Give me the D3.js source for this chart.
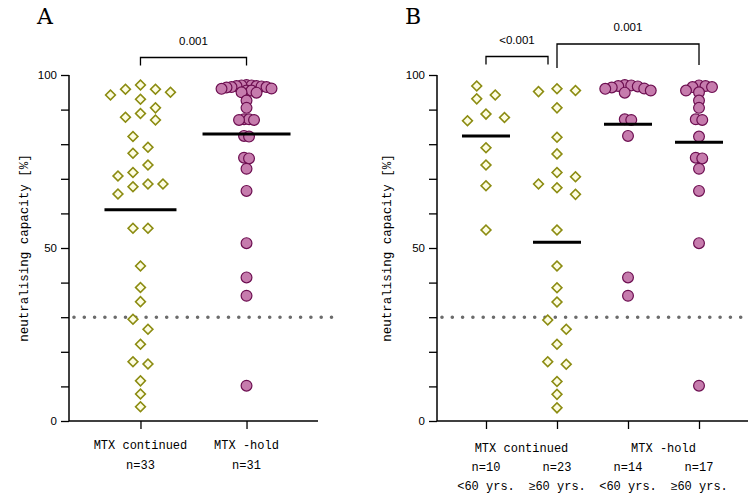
<!DOCTYPE html>
<html><head><meta charset="utf-8">
<script src="https://cdn.jsdelivr.net/npm/d3@7"></script>
<style>body{margin:0;background:#fff}svg{display:block}</style>
</head><body><svg id="c" width="748" height="493"></svg>
<script>
// ---------- data ----------
const contA = [97.1, 95.9, 95.9, 95.0, 94.2, 93.0, 90.5, 88.9, 87.8, 87.0, 82.2, 79.1, 77.4, 74.0, 71.8, 70.8, 68.5, 68.5, 67.7, 65.6, 55.7, 55.7, 44.8, 38.6, 34.5, 29.4, 26.5, 22.2, 17.1, 16.5, 11.6, 7.8, 4.1];
const contUnder60 = [96.8, 94.2, 93.1, 88.7, 87.7, 86.8, 79.0, 74.0, 68.0, 55.2];
const contOver60 = [96.0, 95.5, 95.2, 90.5, 82.0, 77.2, 71.8, 70.6, 68.5, 67.4, 65.5, 55.2, 44.8, 38.5, 34.4, 29.2, 26.5, 22.2, 17.1, 16.4, 11.4, 7.7, 3.8];
const holdUnder60 = [97.1, 97.0, 96.8, 96.7, 96.4, 96.1, 96.0, 95.5, 94.9, 87.2, 87.0, 82.4, 41.5, 36.2];
const holdOver60 = [97.0, 96.8, 96.5, 96.5, 95.5, 95.0, 92.6, 90.5, 87.2, 87.0, 82.2, 76.1, 75.9, 72.9, 66.5, 51.4, 10.2];
const holdA = holdUnder60.concat(holdOver60);

const catsA = ["MTX continued", "MTX -hold"];
const nLabelsA = ["n=33", "n=31"];
const catsB = ["cont<60", "cont>=60", "hold<60", "hold>=60"];
const groupLabelsB = ["MTX continued", "MTX -hold"];
const nLabelsB = ["n=10", "n=23", "n=14", "n=17"];
const ageLabelsB = ["<60 yrs.", "\u226560 yrs.", "<60 yrs.", "\u226560 yrs."];
const yTicks = [0, 10, 20, 30, 40, 50, 60, 70, 80, 90, 100];
const yTickLabels = [0, 50, 100];
const threshold = 30;
const pA = ["0.001"];
const pB = ["<0.001", "0.001"];
const yLabel = "neutralising capacity [%]";

// ---------- styles ----------
const DIA_FILL = "#fdfde2", DIA_STROKE = "#8c8c12";
const CIR_FILL = "#c67cad", CIR_STROKE = "#6d0f51";
const monoFont = "'Liberation Mono', 'DejaVu Sans Mono', monospace";
const sansFont = "'Liberation Sans', Arial, sans-serif";
const serifFont = "'DejaVu Serif', 'Liberation Serif', serif";

const svg = d3.select("#c");
const y = d3.scaleLinear().domain([0, 100]).range([421, 75]);

function swarm(values, step, D) {
  const pts = values.map(v => ({ v, py: y(v), dx: 0 })).sort((a, b) => b.v - a.v);
  const placed = [];
  for (const p of pts) {
    outer: for (let k = 0; k < 60; k++) {
      const cands = k === 0 ? [0] : [k * step, -k * step];
      for (const c of cands) {
        if (placed.every(q => Math.hypot(q.dx - c, q.py - p.py) >= D - 0.01)) { p.dx = c; break outer; }
      }
    }
    placed.push(p);
  }
  const comps = []; let comp = [pts[0]];
  for (let i = 1; i < pts.length; i++) {
    if (pts[i].py - pts[i - 1].py < D) comp.push(pts[i]); else { comps.push(comp); comp = [pts[i]]; }
  }
  comps.push(comp);
  comps.forEach(c => { const m = (d3.min(c, d => d.dx) + d3.max(c, d => d.dx)) / 2; c.forEach(d => d.dx -= m); });
  return pts;
}

function drawPanel(opt) {
  const g = svg.append("g");
  const x = d3.scalePoint().domain(opt.cats).range([opt.x0, opt.x1]).padding(opt.pad);
  g.append("line").attr("x1", opt.x0 + 5).attr("x2", opt.dotEnd)
    .attr("y1", y(threshold)).attr("y2", y(threshold))
    .attr("stroke", "#6b6b6b").attr("stroke-width", 3.6)
    .attr("stroke-linecap", "round").attr("stroke-dasharray", "0 10.3");
  const ya = g.append("g").attr("transform", `translate(${opt.x0},0)`)
    .call(d3.axisLeft(y).tickValues(yTicks).tickSize(8).tickPadding(4)
      .tickFormat(d => yTickLabels.includes(d) ? d : ""));
  const xa = g.append("g").attr("transform", `translate(0,${y(0)})`)
    .call(d3.axisBottom(x).tickSize(8).tickFormat(""));
  [ya, xa].forEach(a => {
    a.select(".domain").attr("stroke", "#000").attr("stroke-width", 1.5);
    a.selectAll(".tick line").attr("stroke", "#000").attr("stroke-width", 1.3);
    a.selectAll("text").attr("font-family", sansFont).attr("font-size", 11.5).attr("fill", "#000");
  });
  xa.select(".domain").attr("d", `M${opt.x0},0H${opt.x1}`);
  ya.select(".domain").attr("d", `M0,${y(0)}V${y(100)}`);
  g.append("text").attr("transform", `translate(${opt.yLabX},${y(50)}) rotate(-90)`)
    .attr("text-anchor", "middle").attr("font-family", monoFont).attr("font-size", 12.5)
    .text(yLabel);
  opt.groups.forEach((vals, i) => {
    const cx = x(opt.cats[i]);
    const circ = opt.shapes[i] === "c";
    const pts = swarm(vals, circ ? opt.cStep : opt.dStep, circ ? opt.cStep : 12);
    const gp = g.append("g");
    if (circ) {
      gp.selectAll("circle").data(pts).join("circle")
        .attr("cx", d => cx + d.dx).attr("cy", d => d.py).attr("r", 5.4)
        .attr("fill", CIR_FILL).attr("stroke", CIR_STROKE).attr("stroke-width", 1.2);
    } else {
      gp.selectAll("path").data(pts).join("path")
        .attr("d", d3.symbol(d3.symbolSquare, 48)())
        .attr("transform", d => `translate(${cx + d.dx},${d.py}) rotate(45)`)
        .attr("fill", DIA_FILL).attr("stroke", DIA_STROKE).attr("stroke-width", 1.6);
    }
    const m = d3.mean(vals);
    g.append("line").attr("x1", cx - opt.meanW[i] / 2).attr("x2", cx + opt.meanW[i] / 2)
      .attr("y1", y(m)).attr("y2", y(m)).attr("stroke", "#000").attr("stroke-width", 3);
  });
  opt.brackets.forEach(b => {
    const xa1 = x(opt.cats[b.a]) + (b.padA || 0), xb1 = x(opt.cats[b.b]) + (b.padB || 0);
    g.append("path").attr("d", `M${xa1},${b.y + b.legA}V${b.y}H${xb1}V${b.y + b.legB}`)
      .attr("fill", "none").attr("stroke", "#000").attr("stroke-width", 1.3);
    g.append("text").attr("x", (xa1 + xb1) / 2).attr("y", b.y - 13).attr("text-anchor", "middle")
      .attr("font-family", sansFont).attr("font-size", 11.5).text(b.label);
  });
  g.append("text").attr("x", opt.letterX).attr("y", 24).attr("font-family", serifFont)
    .attr("font-size", 22).text(opt.letter);
  return x;
}

const xA = drawPanel({
  cats: catsA, x0: 69, x1: 318, pad: 0.674, dotEnd: 338, yLabX: 28,
  groups: [contA, holdA], shapes: ["d", "c"], dStep: 15, cStep: 5, meanW: [72, 88],
  brackets: [{ a: 0, b: 1, y: 57.5, legA: 8, legB: 8, label: pA[0] }],
  letter: "A", letterX: 37
});
catsA.forEach((c, i) => {
  svg.append("text").attr("x", xA(c)).attr("y", 449).attr("text-anchor", "middle")
    .attr("font-family", monoFont).attr("font-size", 12).text(c);
  svg.append("text").attr("x", xA(c)).attr("y", 469).attr("text-anchor", "middle")
    .attr("font-family", monoFont).attr("font-size", 12).text(nLabelsA[i]);
});

const xB = drawPanel({
  cats: catsB, x0: 437, x1: 748, pad: 0.69, dotEnd: 745, yLabX: 391,
  groups: [contUnder60, contOver60, holdUnder60, holdOver60], shapes: ["d", "d", "c", "c"],
  dStep: 18.5, cStep: 6.5, meanW: [48, 48, 48, 48],
  brackets: [
    { a: 0, b: 1, y: 56.5, legA: 8, legB: 8, padB: -9, label: pB[0] },
    { a: 1, b: 3, y: 44, legA: 24, legB: 21, label: pB[1] }
  ],
  letter: "B", letterX: 405
});
groupLabelsB.forEach((t, i) => {
  const cx = (xB(catsB[2 * i]) + xB(catsB[2 * i + 1])) / 2;
  svg.append("text").attr("x", cx).attr("y", 452).attr("text-anchor", "middle")
    .attr("font-family", monoFont).attr("font-size", 12).text(t);
});
catsB.forEach((c, i) => {
  svg.append("text").attr("x", xB(c)).attr("y", 471).attr("text-anchor", "middle")
    .attr("font-family", monoFont).attr("font-size", 12).text(nLabelsB[i]);
  svg.append("text").attr("x", xB(c)).attr("y", 490).attr("text-anchor", "middle")
    .attr("font-family", monoFont).attr("font-size", 12).text(ageLabelsB[i]);
});
</script></body></html>
